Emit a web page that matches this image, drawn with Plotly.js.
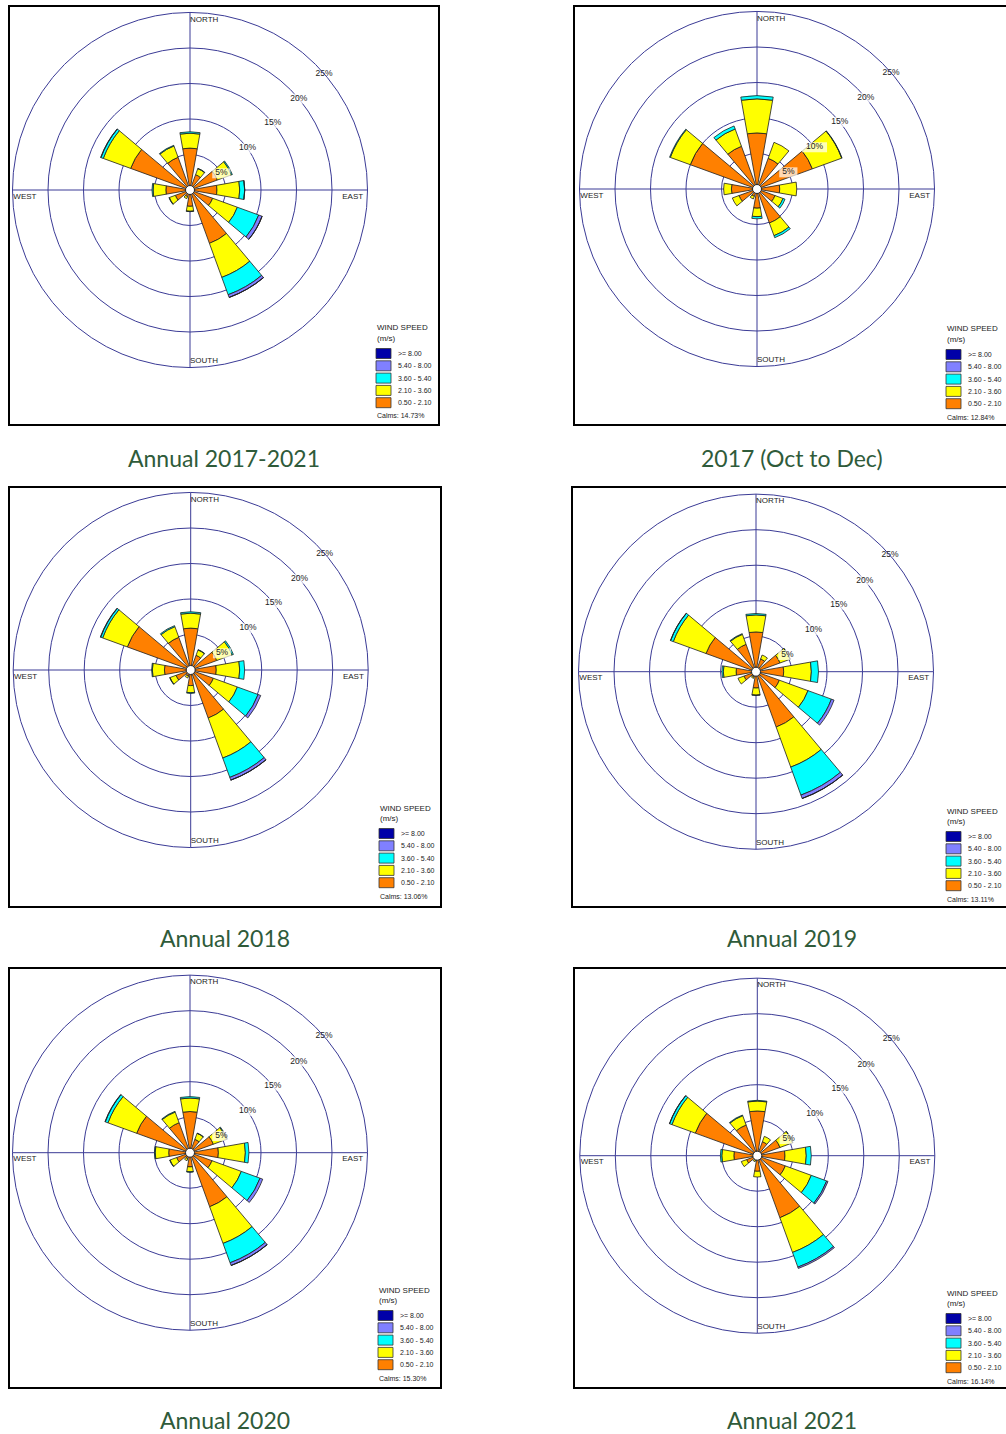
<!DOCTYPE html>
<html><head><meta charset="utf-8">
<script src="https://cdn.plot.ly/plotly-3.0.1.min.js"></script>
<style>html,body{margin:0;padding:0;background:#fff;}#chart{width:1006px;height:1434px;}</style>
</head><body><div id="chart"></div>
<script>
// ---------- DATA ----------
const directions = [0, 30, 60, 90, 120, 150, 180, 210, 240, 270, 300, 330];
const speedLabels = ['0.50 - 2.10', '2.10 - 3.60', '3.60 - 5.40', '5.40 - 8.00', '>= 8.00'];
const captions = ['Annual 2017-2021', '2017 (Oct to Dec)', 'Annual 2018', 'Annual 2019', 'Annual 2020', 'Annual 2021'];
const calms = ['14.73%', '12.84%', '13.06%', '13.11%', '15.30%', '16.14%'];
const ringValues = [5, 10, 15, 20, 25];
const ringLabels = ['5%', '10%', '15%', '20%', '25%'];
const compassNames = ['NORTH', 'EAST', 'SOUTH', 'WEST'];

// Annual 2017-2021 (% frequency per speed class)
const y1721_s1 = [5.9, 2.3, 4.1, 3.8, 3.4, 8.0, 2.3, 1.0, 2.2, 3.4, 8.9, 4.9];
const y1721_s2 = [2.1, 0.9, 2.1, 3.2, 3.7, 5.1, 0.7, 0.3, 0.9, 1.8, 4.1, 1.7];
const y1721_s3 = [0.2, 0.05, 0.15, 0.7, 3.2, 2.6, 0.05, 0, 0.05, 0.15, 0.35, 0.1];
const y1721_s4 = [0, 0, 0, 0.02, 0.5, 0.4, 0, 0, 0, 0, 0.05, 0];
const y1721_s5 = [0, 0, 0, 0, 0.02, 0.02, 0, 0, 0, 0, 0, 0];
// 2017 (Oct to Dec)
const y17_s1 = [7.9, 4.6, 8.3, 3.2, 2.7, 5.1, 2.7, 1.1, 2.7, 3.6, 10.0, 6.4];
const y17_s2 = [4.8, 2.4, 4.4, 2.4, 1.2, 1.9, 1.2, 0.4, 1.0, 1.1, 3.0, 2.6];
const y17_s3 = [0.45, 0, 0.05, 0, 0.3, 0.3, 0.3, 0, 0, 0, 0.1, 0.45];
const y17_s4 = [0, 0, 0, 0, 0, 0, 0, 0, 0, 0, 0, 0];
const y17_s5 = [0, 0, 0, 0, 0, 0, 0, 0, 0, 0, 0, 0];
// Annual 2018
const y18_s1 = [5.9, 2.2, 3.9, 3.6, 3.4, 7.2, 2.2, 0.9, 2.2, 3.7, 9.5, 4.9];
const y18_s2 = [2.1, 0.8, 2.3, 3.3, 3.6, 6.0, 1.0, 0.3, 0.9, 1.7, 3.7, 1.6];
const y18_s3 = [0.2, 0.05, 0.2, 0.7, 3.1, 2.9, 0.1, 0, 0.05, 0.1, 0.3, 0.15];
const y18_s4 = [0, 0, 0, 0, 0.4, 0.4, 0, 0, 0, 0, 0.05, 0];
const y18_s5 = [0, 0, 0, 0, 0, 0.02, 0, 0, 0, 0, 0, 0];
// Annual 2019
const y19_s1 = [5.6, 1.9, 3.6, 3.9, 3.5, 8.3, 2.3, 0.8, 1.8, 2.8, 7.5, 4.1];
const y19_s2 = [2.4, 0.6, 1.5, 3.9, 4.3, 6.0, 1.0, 0.2, 0.9, 1.8, 4.9, 1.5];
const y19_s3 = [0.2, 0, 0.05, 1.0, 3.5, 4.2, 0.05, 0, 0, 0.2, 0.4, 0.1];
const y19_s4 = [0, 0, 0, 0, 0.4, 0.5, 0, 0, 0, 0, 0.03, 0];
const y19_s5 = [0, 0, 0, 0, 0, 0.02, 0, 0, 0, 0, 0, 0];
// Annual 2020
const y20_s1 = [5.8, 2.0, 3.5, 4.0, 3.3, 8.1, 2.0, 0.9, 2.0, 3.0, 8.0, 4.5];
const y20_s2 = [1.9, 0.9, 2.0, 3.8, 4.4, 5.5, 0.7, 0.3, 1.0, 1.9, 4.3, 1.6];
const y20_s3 = [0.2, 0.05, 0.1, 0.5, 2.8, 2.9, 0.05, 0, 0.05, 0.1, 0.4, 0.1];
const y20_s4 = [0, 0, 0, 0, 0.4, 0.4, 0, 0, 0, 0, 0.05, 0];
const y20_s5 = [0, 0, 0, 0, 0, 0.02, 0, 0, 0, 0, 0, 0];
// Annual 2021
const y21_s1 = [6.3, 2.1, 3.4, 3.9, 4.2, 9.3, 2.2, 0.7, 1.6, 3.3, 9.3, 4.6];
const y21_s2 = [1.4, 0.8, 1.9, 3.0, 3.9, 5.2, 0.8, 0.2, 0.8, 1.7, 3.5, 1.4];
const y21_s3 = [0.1, 0, 0.05, 0.7, 2.3, 2.2, 0, 0, 0, 0.2, 0.35, 0.1];
const y21_s4 = [0, 0, 0, 0, 0.2, 0.2, 0, 0, 0, 0, 0.03, 0];
const y21_s5 = [0, 0, 0, 0, 0, 0, 0, 0, 0, 0, 0, 0];

// ---------- STYLE / LAYOUT ----------
const speedColors = ['#ff8000', '#ffff00', '#00ffff', '#8080ff', '#0000a8'];
const W = 1006, H = 1434, R = 177.5;
const NAVY = '#3b3b96';
const FONT = 'Liberation Sans, Arial, sans-serif';
const px = v => v / W;
const py = v => 1 - v / H;

const series = [
  [y1721_s1, y1721_s2, y1721_s3, y1721_s4, y1721_s5],
  [y17_s1, y17_s2, y17_s3, y17_s4, y17_s5],
  [y18_s1, y18_s2, y18_s3, y18_s4, y18_s5],
  [y19_s1, y19_s2, y19_s3, y19_s4, y19_s5],
  [y20_s1, y20_s2, y20_s3, y20_s4, y20_s5],
  [y21_s1, y21_s2, y21_s3, y21_s4, y21_s5]
];
// panel geometry: polar centre, frame box, legend anchor, caption centre
const geo = [
  {cx: 190, cy: 190, box: [9, 6, 439, 425], leg: [376, 328], cap: [224, 458]},
  {cx: 757, cy: 189, box: [574, 6, 1012, 425], leg: [946, 329], cap: [792, 458]},
  {cx: 190.7, cy: 670, box: [9, 487, 441, 907], leg: [379, 808], cap: [225, 938]},
  {cx: 756, cy: 671.7, box: [572, 487, 1012, 907], leg: [946, 811], cap: [792, 938]},
  {cx: 190, cy: 1152.7, box: [9, 968, 441, 1388], leg: [378, 1290], cap: [225, 1420]},
  {cx: 757.3, cy: 1155.7, box: [574, 968, 1012, 1388], leg: [946, 1293], cap: [792, 1420]}
];
const ringLabelAngles = [62, 54, 51, 50, 49];
const ringLabelSizes = [13, 18, 18, 18, 18];
const compassTheta = [0, 92.2, 180, 267.8];
const compassR = [24.0, 24.4, 24.7, 24.9];
const compassPos = ['middle right', 'middle left', 'top right', 'middle right'];

const traces = [];
const layout = {
  width: W, height: H,
  margin: {l: 0, r: 0, t: 0, b: 0},
  paper_bgcolor: '#ffffff',
  showlegend: false,
  shapes: [], annotations: []
};

geo.forEach((g, i) => {
  const key = i === 0 ? 'polar' : 'polar' + (i + 1);
  layout[key] = {
    domain: {x: [px(g.cx - R), px(g.cx + R)], y: [py(g.cy + R), py(g.cy - R)]},
    bgcolor: '#ffffff',
    barmode: 'stack',
    radialaxis: {range: [0, 25], tickvals: [5, 10, 15, 20], showticklabels: false, ticks: '',
      showline: false, showgrid: true, gridcolor: NAVY, gridwidth: 1},
    angularaxis: {rotation: 90, direction: 'clockwise', tickvals: [0, 90, 180, 270],
      showticklabels: false, ticks: '', showgrid: true, gridcolor: NAVY, gridwidth: 1,
      showline: true, linecolor: NAVY, linewidth: 1}
  };
  series[i].forEach((vals, k) => {
    traces.push({
      type: 'barpolar', subplot: key, r: vals, theta: directions, width: 20,
      name: speedLabels[k],
      marker: {color: speedColors[k], line: {color: '#1e1e1e', width: 0.8}},
      hoverinfo: 'skip'
    });
  });
  // ring percentage labels with white backing
  traces.push({
    type: 'scatterpolar', subplot: key, mode: 'markers+text', cliponaxis: false,
    r: ringValues, theta: ringLabelAngles, text: ringLabels, textposition: 'middle center',
    textfont: {family: FONT, size: 8.5, color: '#222'},
    marker: {symbol: 'line-ew', size: ringLabelSizes, color: '#fff', line: {color: '#fff', width: 10}},
    hoverinfo: 'skip'
  });
  // compass labels
  traces.push({
    type: 'scatterpolar', subplot: key, mode: 'text', cliponaxis: false,
    r: compassR, theta: compassTheta, text: compassNames, textposition: compassPos,
    textfont: {family: FONT, size: 8, color: '#222'}, hoverinfo: 'skip'
  });
  // centre circle
  traces.push({
    type: 'scatterpolar', subplot: key, mode: 'markers', r: [0], theta: [0],
    marker: {size: 9, color: '#fff', line: {color: '#222', width: 1}}, hoverinfo: 'skip'
  });

  // frame
  layout.shapes.push({type: 'rect', xref: 'paper', yref: 'paper',
    x0: px(g.box[0]), x1: px(g.box[2]), y0: py(g.box[3]), y1: py(g.box[1]),
    line: {color: '#000', width: 2}, fillcolor: 'rgba(0,0,0,0)'});

  // legend
  const lx = g.leg[0], ly = g.leg[1];
  const note = (x, y, t, s) => layout.annotations.push({xref: 'paper', yref: 'paper',
    x: px(x), y: py(y), text: t, showarrow: false, xanchor: 'left', yanchor: 'middle',
    font: {family: FONT, size: s, color: '#222'}});
  note(lx - 1, ly, 'WIND SPEED', 8);
  note(lx - 1, ly + 10, '(m/s)', 8);
  for (let k = 0; k < 5; k++) {
    const j = 4 - k;
    const top = ly + 20.5 + 12.3 * k;
    layout.shapes.push({type: 'rect', xref: 'paper', yref: 'paper',
      x0: px(lx), x1: px(lx + 15), y0: py(top + 10), y1: py(top),
      fillcolor: speedColors[j], line: {color: '#333', width: 0.8}});
    note(lx + 20, top + 5, speedLabels[j], 7);
  }
  note(lx - 1, ly + 88, 'Calms: ' + calms[i], 7);

  // caption
  layout.annotations.push({xref: 'paper', yref: 'paper', x: px(g.cap[0]), y: py(g.cap[1]),
    text: captions[i], showarrow: false, xanchor: 'center', yanchor: 'middle',
    font: {family: 'Lato, Open Sans, sans-serif', size: 23, color: '#2f5b3a'}});
});

Plotly.newPlot('chart', traces, layout, {staticPlot: true, displayModeBar: false});
</script>
</body></html>
